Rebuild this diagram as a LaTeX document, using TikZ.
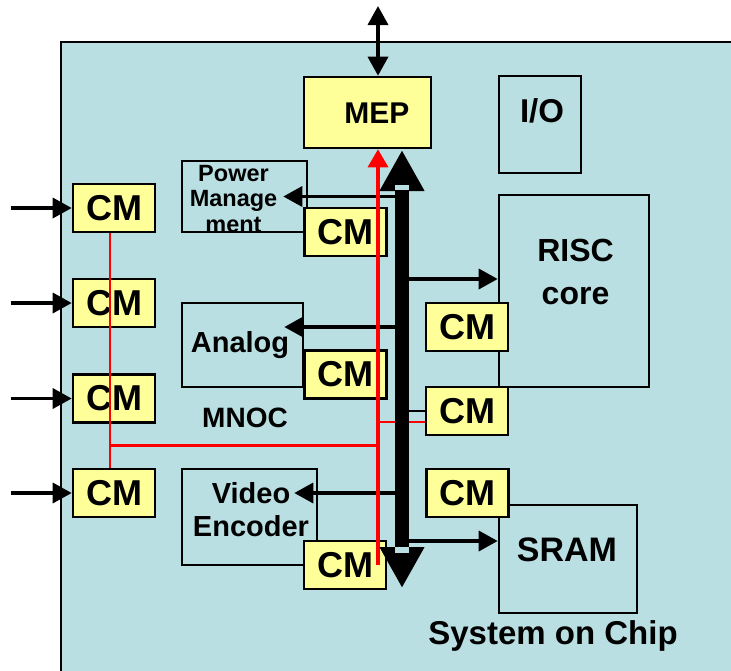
\documentclass[tikz,border=0pt]{standalone}
\usepackage{fontspec}
\setmainfont{Liberation Sans}
\usetikzlibrary{arrows.meta,calc}
\definecolor{chipbg}{RGB}{186,223,227}
\definecolor{cmfill}{RGB}{255,255,153}
\definecolor{nocred}{RGB}{255,0,0}

\begin{document}
\begin{tikzpicture}[x=1pt, y=-1pt,
  every node/.style={font=\bfseries},
  >={Triangle[length=19pt,width=20pt]},
  bus/.tip={Triangle[length=41pt,width=42pt]},
  blk/.style={rectangle, draw, line width=2.6pt, inner sep=0pt},
  cmbox/.style={blk, fill=cmfill, minimum width=82pt, minimum height=48pt, font=\fontsize{36}{36}\selectfont\bfseries},
  lbl/.style={inner sep=0pt, align=center},
  sig/.style={->, line width=3.5pt},
  redsig/.style={draw=nocred, line width=2.6pt},
  busbar/.style={bus-bus, line width=14pt}
]
  \useasboundingbox (0,0) rectangle (731,670);
  \fill[chipbg] (61,42) rectangle (745,685);
  \draw[line width=2.6pt] (745,42) -- (61,42) -- (61,685);

  \node[blk, fill=cmfill, minimum width=127pt, minimum height=71pt] (mep) at (367.5,112.5) {};
  \node[blk, minimum width=82pt, minimum height=97pt] (io) at (540,124.5) {};
  \node[blk, minimum width=125pt, minimum height=71pt] (pwr) at (244.5,196.5) {};
  \node[blk, minimum width=121pt, minimum height=84pt] (anlg) at (242.5,345) {};
  \node[blk, minimum width=150pt, minimum height=192pt] (risc) at (574,291) {};
  \node[blk, minimum width=135pt, minimum height=96pt] (vid) at (249.5,517) {};
  \node[blk, minimum width=138pt, minimum height=108pt] (sram) at (568,559) {};

  \node[lbl, anchor=base, font=\fontsize{30}{30}\selectfont\bfseries] (meptxt) at (377,123) {MEP};
  \node[lbl, anchor=base, font=\fontsize{33}{33}\selectfont\bfseries] (iotxt) at (542,122) {I/O};
  \node[lbl, font=\fontsize{23.5}{25.5}\selectfont\bfseries] (pwrtxt) at (233.5,199) {Power\\Manage\\ment};
  \node[lbl, anchor=base, font=\fontsize{29}{29}\selectfont\bfseries] (anlgtxt) at (240,352) {Analog};
  \node[lbl, anchor=base, font=\fontsize{28}{28}\selectfont\bfseries] (mnoc) at (245,427) {MNOC};
  \node[lbl, font=\fontsize{32}{43}\selectfont\bfseries] (risctxt) at (575.5,272) {RISC\\core};
  \node[lbl, font=\fontsize{29}{33}\selectfont\bfseries] (vidtxt) at (251,510) {Video\\Encoder};
  \node[lbl, anchor=base, font=\fontsize{34}{34}\selectfont\bfseries] (sramtxt) at (567,561) {SRAM};
  \node[lbl, anchor=base, font=\fontsize{33}{33}\selectfont\bfseries] (soc) at (553,644) {System on Chip};

  \foreach \i/\y in {1/208,2/303,3/398.5,4/493} \node[cmbox] (cml\i) at (114,\y) {CM};
  \node[cmbox] (cmp) at (345.5,232) {CM};
  \node[cmbox] (cma) at (345.5,374.5) {CM};
  \node[cmbox] (cmv) at (345,565) {CM};
  \node[cmbox] (cmr1) at (467,327) {CM};
  \node[cmbox] (cmr2) at (467,411) {CM};
  \node[cmbox] (cms) at (467.5,493) {CM};

  \coordinate (bustop) at (402,150);
  \coordinate (busbot) at (402,588);
  \coordinate (ext) at (378,6);
  \coordinate (redtop) at ([xshift=10.5pt]mep.south);
  \coordinate (pwrin) at ([xshift=-25pt]pwr.east);
  \coordinate (anlgin) at ([shift={(-20pt,18pt)}]anlg.east);
  \coordinate (vidin) at ([shift={(-24pt,24pt)}]vid.east);
  \coordinate (riscin) at ([yshift=12pt]risc.west);
  \coordinate (sramin) at ([yshift=18pt]sram.west);
  \coordinate (rj) at ($(cml3.south)!0.5!(cml4.north)$);

  \draw[sig, <->] (ext) -- (ext |- mep.north);
  \foreach \n in {cml1,cml2,cml3,cml4} \draw[sig] ([xshift=-61pt]\n.west) -- (\n.west);
  \foreach \n in {pwrin,anlgin,vidin,riscin,sramin} \draw[sig] (bustop |- \n) -- (\n);
  \draw[line width=2.6pt] (bustop |- cmr2.west) -- (cmr2.west);

  \draw[redsig] ([xshift=-4pt]cml1.south) -- ([xshift=-4pt]cml4.north);
  \draw[redsig] ([xshift=-4pt]rj) -- (rj -| redtop);
  \draw[redsig] ([yshift=-11pt]cmr2.west) -- ([yshift=-11pt]redtop |- cmr2.west);
  \draw[redsig, line width=3.4pt, -{Triangle[length=18pt,width=20pt]}] (redtop |- cmv) -- (redtop);

  \draw[busbar] (bustop) -- (busbot);
  \fill[chipbg] (395,185) rectangle (409,190);
  \fill[chipbg] (395,547) rectangle (409,553);
\end{tikzpicture}
\end{document}
